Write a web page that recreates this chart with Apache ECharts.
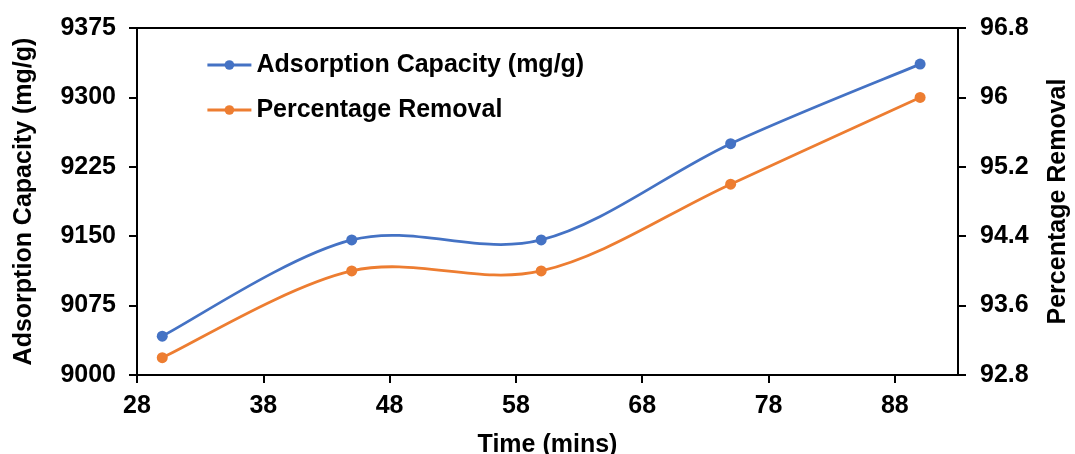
<!DOCTYPE html>
<html>
<head>
<meta charset="utf-8">
<script src="https://cdn.jsdelivr.net/npm/echarts@6/dist/echarts.min.js"></script>
<style>
  html, body { margin: 0; padding: 0; background: #fff; }
  #chart { width: 1075px; height: 454px; }
</style>
</head>
<body>
<div id="chart"></div>
<script>
// Contact time (minutes)
const timeMins = [30, 45, 60, 75, 90];
// Adsorption capacity (mg/g)
const adsorptionCapacity = [9042, 9146, 9146, 9250, 9336];
// Percentage removal (%)
const percentageRemoval = [93.0, 94.0, 94.0, 95.0, 96.0];
// Tick positions on the time axis
const timeTicks = [28, 38, 48, 58, 68, 78, 88];

const FONT = '"Liberation Sans", Arial, sans-serif';
const BLUE = '#4472C4';
const ORANGE = '#ED7D31';
const LINE_W = 2.8;

const chart = echarts.init(document.getElementById('chart'), null, { renderer: 'canvas' });

const axisText = { color: '#000', fontFamily: FONT, fontWeight: 'bold', fontSize: 25 };
const nameText = { color: '#000', fontFamily: FONT, fontWeight: 'bold', fontSize: 25 };
const blackLine = { show: true, lineStyle: { color: '#000', width: 2 } };
const plainNumber = v => String(v);

// Cardinal-spline segment (tension 1/6) from point i to i+1, placed via the axes.
function smoothSegment(values, color) {
  return function (params, api) {
    const i = params.dataIndex;
    const n = timeMins.length;
    if (i >= n - 1) return null;
    const pt = j => api.coord([timeMins[j], values[j]]);
    const p0 = pt(Math.max(i - 1, 0));
    const p1 = pt(i);
    const p2 = pt(i + 1);
    const p3 = pt(Math.min(i + 2, n - 1));
    return {
      type: 'bezierCurve',
      shape: {
        x1: p1[0], y1: p1[1],
        x2: p2[0], y2: p2[1],
        cpx1: p1[0] + (p2[0] - p0[0]) / 6, cpy1: p1[1] + (p2[1] - p0[1]) / 6,
        cpx2: p2[0] - (p3[0] - p1[0]) / 6, cpy2: p2[1] - (p3[1] - p1[1]) / 6
      },
      style: { stroke: color, lineWidth: LINE_W, fill: null, lineCap: 'round' }
    };
  };
}

function curveSeries(values, color, yAxisIndex) {
  return {
    type: 'custom',
    yAxisIndex: yAxisIndex,
    z: 1,
    silent: true,
    encode: { x: 0, y: 1 },
    renderItem: smoothSegment(values, color),
    data: timeMins.map((t, i) => [t, values[i]])
  };
}

function markerSeries(name, values, color, yAxisIndex) {
  return {
    name: name,
    type: 'line',
    yAxisIndex: yAxisIndex,
    z: 3,
    symbol: 'circle',
    symbolSize: 11,
    itemStyle: { color: color },
    lineStyle: { color: color, width: 0, opacity: 0 },
    data: timeMins.map((t, i) => [t, values[i]])
  };
}

chart.setOption({
  animation: false,
  backgroundColor: '#fff',
  grid: {
    left: 137, right: 117, top: 28, bottom: 79,
    containLabel: false,
    outerBoundsMode: 'none',
    show: true, borderColor: '#000', borderWidth: 2
  },
  legend: {
    orient: 'vertical',
    left: 201, top: 46,
    itemWidth: 44, itemHeight: 12,
    itemGap: 17,
    textStyle: { color: '#000', fontFamily: FONT, fontWeight: 'bold', fontSize: 25, lineHeight: 28 },
    data: [
      { name: 'Adsorption Capacity (mg/g)', lineStyle: { color: BLUE, width: LINE_W, opacity: 1 } },
      { name: 'Percentage Removal', lineStyle: { color: ORANGE, width: LINE_W, opacity: 1 } }
    ]
  },
  xAxis: {
    type: 'value',
    min: 28, max: 93,
    name: 'Time (mins)',
    nameLocation: 'middle',
    nameGap: 58,
    nameTextStyle: nameText,
    axisLine: blackLine,
    axisTick: { show: true, length: 8, lineStyle: { color: '#000', width: 2 }, customValues: timeTicks },
    axisLabel: Object.assign({ margin: 19, customValues: timeTicks, formatter: plainNumber }, axisText),
    splitLine: { show: false }
  },
  yAxis: [
    {
      type: 'value',
      min: 9000, max: 9375, interval: 75,
      name: 'Adsorption Capacity (mg/g)',
      nameLocation: 'middle',
      nameGap: 100,
      nameTextStyle: nameText,
      axisLine: blackLine,
      axisTick: { show: true, length: 8, lineStyle: { color: '#000', width: 2 } },
      axisLabel: Object.assign({ margin: 21, formatter: plainNumber }, axisText),
      splitLine: { show: false }
    },
    {
      type: 'value',
      position: 'right',
      min: 92.8, max: 96.8, interval: 0.8,
      name: 'Percentage Removal',
      nameLocation: 'middle',
      nameGap: 88,
      nameRotate: 90,
      nameTextStyle: nameText,
      axisLine: blackLine,
      axisTick: { show: true, length: 8, lineStyle: { color: '#000', width: 2 } },
      axisLabel: Object.assign({ margin: 22, formatter: v => String(Math.round(v * 10) / 10) }, axisText),
      splitLine: { show: false }
    }
  ],
  series: [
    curveSeries(adsorptionCapacity, BLUE, 0),
    curveSeries(percentageRemoval, ORANGE, 1),
    markerSeries('Adsorption Capacity (mg/g)', adsorptionCapacity, BLUE, 0),
    markerSeries('Percentage Removal', percentageRemoval, ORANGE, 1)
  ]
});
</script>
</body>
</html>
